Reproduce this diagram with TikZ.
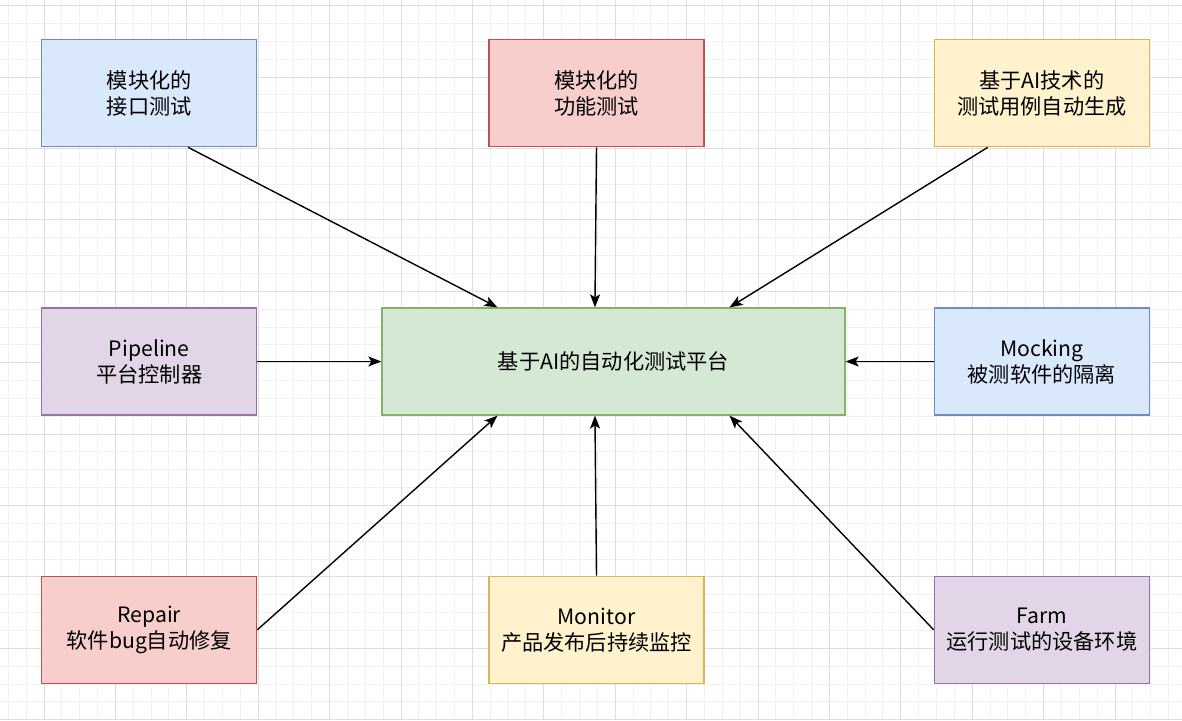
\documentclass[tikz,border=0pt]{standalone}
\usepackage{fontspec}
\setmainfont{Noto Sans CJK SC}
\usepackage{xcolor}
\usetikzlibrary{arrows.meta, positioning, calc}

\definecolor{blueFill}{HTML}{DAE8FC}   \definecolor{blueLine}{HTML}{6C8EBF}
\definecolor{redFill}{HTML}{F8CECC}    \definecolor{redLine}{HTML}{B85450}
\definecolor{yellowFill}{HTML}{FFF2CC} \definecolor{yellowLine}{HTML}{D6B656}
\definecolor{purpleFill}{HTML}{E1D5E7} \definecolor{purpleLine}{HTML}{9673A6}
\definecolor{greenFill}{HTML}{D5E8D4}  \definecolor{greenLine}{HTML}{82B366}
\definecolor{gridMinor}{HTML}{F1F1F1}  \definecolor{gridMajor}{HTML}{DEDEDE}

\begin{document}
\begin{tikzpicture}[
    x=1pt, y=-1pt,
    card/.style      = {draw, line width=1.3pt, minimum width=215pt,
                        minimum height=107pt, inner sep=0pt, align=center,
                        font=\fontsize{21.2}{26}\selectfont},
    bluecard/.style  = {card, fill=blueFill, draw=blueLine},
    redcard/.style   = {card, fill=redFill, draw=redLine},
    yellowcard/.style= {card, fill=yellowFill, draw=yellowLine},
    purplecard/.style= {card, fill=purpleFill, draw=purpleLine},
    hubcard/.style   = {card, fill=greenFill, draw=greenLine, minimum width=463pt},
    arr/.style       = {-{Stealth[length=13pt, width=10pt, inset=3pt]}, line width=1.4pt},
]

%% -- canvas and grid ---------------------------------------------------------
\fill[white] (0,0) rectangle (1182,720);
\useasboundingbox (0,0) rectangle (1182,720);
\foreach \i in {0,...,65}
    \draw[gridMinor, line width=1pt] ({8.3+17.85*\i},0) -- ({8.3+17.85*\i},720);
\foreach \i in {0,...,40}
    \draw[gridMinor, line width=1pt] (0,{5.7+17.85*\i}) -- (1182,{5.7+17.85*\i});
\foreach \i in {0,...,15}
    \draw[gridMajor, line width=1pt] ({44+71.4*\i},0) -- ({44+71.4*\i},720);
\foreach \i in {0,...,10}
    \draw[gridMajor, line width=1pt] (0,{5.7+71.4*\i}) -- (1182,{5.7+71.4*\i});

%% -- hub -----------------------------------------------------------------------
\node[hubcard] (hub) at (613.5,361.5) {基于AI的自动化测试平台};

%% -- middle row ----------------------------------------------------------------
\node[purplecard, left=124pt of hub]  (pipeline) {Pipeline\\平台控制器};
\node[bluecard, right=88pt of hub]    (mocking)  {Mocking\\被测软件的隔离};

%% -- top row -------------------------------------------------------------------
\node[bluecard, above=160pt of pipeline] (apitest)  {模块化的\\接口测试};
\node[redcard, right=231pt of apitest]   (functest) {模块化的\\功能测试};
\node[yellowcard, above=160pt of mocking](casegen)  {基于AI技术的\\测试用例自动生成};

%% -- bottom row ----------------------------------------------------------------
\node[redcard, below=160pt of pipeline]  (repair)  {Repair\\软件bug自动修复};
\node[yellowcard, right=231pt of repair] (monitor) {Monitor\\产品发布后持续监控};
\node[purplecard, below=160pt of mocking](farm)    {Farm\\运行测试的设备环境};

%% -- connectors into the hub ---------------------------------------------------
\draw[arr] ($(apitest.south west)!0.68!(apitest.south east)$) -- ($(hub.north west)!0.25!(hub.north east)$);
\draw[arr] (functest.south) -- ($(hub.north west)!0.46!(hub.north east)$);
\draw[arr] ($(casegen.south west)!0.25!(casegen.south east)$) -- ($(hub.north west)!0.75!(hub.north east)$);
\draw[arr] (pipeline.east) -- (hub.west);
\draw[arr] (mocking.west)  -- (hub.east);
\draw[arr] (repair.east)   -- ($(hub.south west)!0.25!(hub.south east)$);
\draw[arr] (monitor.north) -- ($(hub.south west)!0.46!(hub.south east)$);
\draw[arr] (farm.west)     -- ($(hub.south west)!0.75!(hub.south east)$);

\end{tikzpicture}
\end{document}
